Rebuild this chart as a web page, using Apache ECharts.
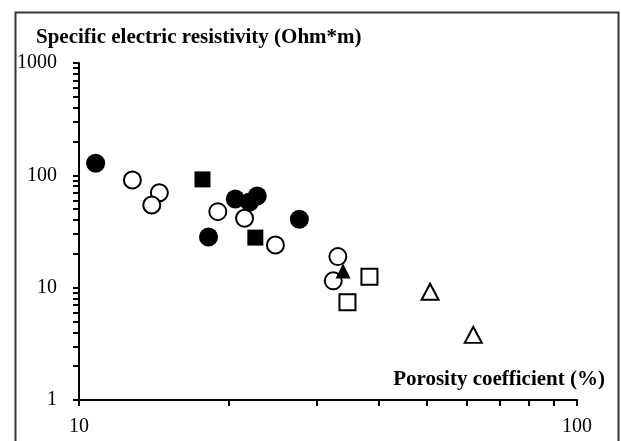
<!DOCTYPE html>
<html>
<head>
<meta charset="utf-8">
<script src="https://cdn.jsdelivr.net/npm/echarts@6/dist/echarts.min.js"></script>
<style>
html,body{margin:0;padding:0;background:#fff;}
#chart{width:621px;height:441px;}
</style>
</head>
<body>
<div id="chart"></div>
<script>
// Data: [porosity %, resistivity Ohm*m]
var filledCircles = [[10.8,128],[18.2,28.3],[20.6,61.5],[22.0,58],[22.8,65.5],[27.7,40.6]];
var openCircles = [[12.8,91],[14.5,70],[14.0,54.5],[19.0,47.5],[21.5,41.5],[24.8,24],[33.1,18.9],[32.4,11.5]];
var filledSquares = [[17.7,92],[22.6,27.9]];
var filledTriangles = [[33.9,14.1]];
var openSquares = [[38.3,12.5],[34.6,7.4]];
var openTriangles = [[50.7,9.2],[61.9,3.8]];

var xTickValues = [10,20,30,40,50,60,70,80,90,100];
var xLabelValues = [10,100];
var yTickValues = [1,2,3,4,5,6,7,8,9,10,20,30,40,50,60,70,80,90,100,200,300,400,500,600,700,800,900,1000];
var yLabelValues = [1,10,100,1000];

var titleText = 'Specific electric resistivity (Ohm*m)';
var xNameText = 'Porosity coefficient (%)';

var FONT = '"Liberation Serif", "Times New Roman", serif';

var chart = echarts.init(document.getElementById('chart'), null, {renderer:'canvas'});

function ser(data, symbol, size, filled){
  return {
    type:'scatter', data:data, symbol:symbol, symbolSize:size,
    itemStyle: filled ? {color:'#000', opacity:1} : {color:'#fff', borderColor:'#000', borderWidth:2, opacity:1},
    emphasis:{disabled:true}, animation:false
  };
}

chart.setOption({
  animation:false,
  backgroundColor:'#fff',
  title:[
    {text:titleText, left:36, top:27, padding:0, textStyle:{fontFamily:FONT, fontWeight:'bold', fontSize:21, color:'#000'}},
    {text:xNameText, right:16, top:369, padding:0, textStyle:{fontFamily:FONT, fontWeight:'bold', fontSize:21, color:'#000'}}
  ],
  graphic:[
    {type:'rect', left:13, top:10, shape:{width:603, height:440}, style:{fill:'none', stroke:'#333', lineWidth:2}, silent:true}
  ],
  grid:{left:79, right:44, top:63, bottom:41, containLabel:false},
  xAxis:{
    type:'log', logBase:10, min:10, max:100,
    axisLine:{show:true, lineStyle:{color:'#000', width:2}},
    axisTick:{show:true, inside:false, length:6, lineStyle:{color:'#000', width:2}, customValues:xTickValues},
    axisLabel:{show:true, margin:17, fontFamily:FONT, fontSize:20, color:'#000', customValues:xLabelValues, formatter:function(v){return String(v);}},
    splitLine:{show:false}, minorTick:{show:false}
  },
  yAxis:{
    type:'log', logBase:10, min:1, max:1000,
    axisLine:{show:true, lineStyle:{color:'#000', width:2}},
    axisTick:{show:true, inside:false, length:6, lineStyle:{color:'#000', width:2}, customValues:yTickValues},
    axisLabel:{show:true, margin:22, fontFamily:FONT, fontSize:20, color:'#000', customValues:yLabelValues, formatter:function(v){return String(v);}},
    splitLine:{show:false}, minorTick:{show:false}
  },
  series:[
    ser(openCircles, 'circle', 17, false),
    ser(filledCircles, 'circle', 19, true),
    ser(filledSquares, 'rect', 16, true),
    ser(openSquares, 'rect', 16, false),
    ser(openTriangles, 'triangle', [17,16], false),
    ser(filledTriangles, 'triangle', [15,15], true)
  ]
});
</script>
</body>
</html>
